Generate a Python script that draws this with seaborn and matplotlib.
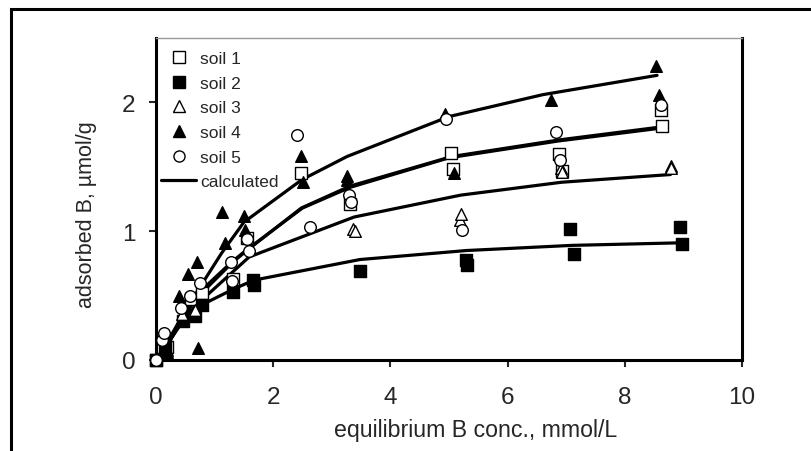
import seaborn as sns
import matplotlib.pyplot as plt
import matplotlib.patches as mpatches
from matplotlib.lines import Line2D
import pandas as pd
import numpy as np

soil1_x = [0, 0.18, 0.6, 0.78, 1.31, 1.55, 2.48, 3.31, 5.04, 5.07, 6.87, 6.92, 8.62, 8.63]
soil1_y = [0, 0.10, 0.47, 0.52, 0.63, 0.95, 1.45, 1.21, 1.61, 1.48, 1.60, 1.47, 1.94, 1.82]
soil2_x = [0, 0.16, 0.46, 0.66, 0.79, 1.32, 1.66, 1.67, 3.48, 5.29, 5.31, 7.07, 7.14, 8.94, 8.97]
soil2_y = [0, 0.11, 0.30, 0.34, 0.43, 0.53, 0.62, 0.58, 0.69, 0.78, 0.74, 1.02, 0.82, 1.03, 0.90]
soil3_x = [0, 0.18, 0.45, 0.67, 3.37, 3.39, 5.18, 5.20, 6.91, 6.93, 8.78, 8.78]
soil3_y = [0, 0.08, 0.36, 0.39, 1.02, 1.00, 1.09, 1.13, 1.49, 1.46, 1.51, 1.49]
soil4_x = [0, 0.18, 0.40, 0.55, 0.70, 0.72, 1.12, 1.17, 1.50, 1.52, 2.47, 2.51, 3.26, 3.26, 4.93, 5.09, 6.74, 8.53, 8.59]
soil4_y = [0, 0.065, 0.50, 0.67, 0.76, 0.09, 1.15, 0.91, 1.12, 1.01, 1.58, 1.38, 1.43, 1.40, 1.91, 1.45, 2.02, 2.28, 2.06]
soil5_x = [0, 0.11, 0.13, 0.42, 0.58, 0.75, 1.28, 1.30, 1.55, 1.58, 2.40, 2.63, 3.30, 3.32, 4.95, 5.22, 6.83, 6.90, 8.61]
soil5_y = [0, 0.155, 0.21, 0.40, 0.50, 0.60, 0.76, 0.61, 0.94, 0.85, 1.75, 1.03, 1.28, 1.23, 1.87, 1.01, 1.77, 1.55, 1.98]

# calculated curves
calc1_x = [0, 0.18, 0.6, 0.78, 1.31, 1.55, 2.48, 3.31, 5.05, 6.9, 8.63]
calc1_y = [0, 0.11, 0.42, 0.52, 0.76, 0.85, 1.18, 1.35, 1.58, 1.71, 1.81]
calc2_x = [0, 0.16, 0.46, 0.66, 0.79, 1.32, 1.67, 3.48, 5.3, 7.1, 8.97]
calc2_y = [0, 0.12, 0.30, 0.38, 0.43, 0.55, 0.62, 0.78, 0.85, 0.89, 0.91]
calc3_x = [0, 0.18, 0.45, 0.67, 1.59, 3.38, 5.2, 6.92, 8.78]
calc3_y = [0, 0.11, 0.30, 0.42, 0.80, 1.11, 1.28, 1.38, 1.44]
calc4_x = [0, 0.18, 0.40, 0.70, 1.12, 1.50, 2.49, 3.26, 5.0, 6.6, 8.55]
calc4_y = [0, 0.10, 0.30, 0.53, 0.83, 1.07, 1.40, 1.58, 1.89, 2.06, 2.21]
calc5_x = [0, 0.12, 0.42, 0.58, 0.75, 1.29, 1.56, 2.5, 3.31, 5.0, 6.86, 8.61]
calc5_y = [0, 0.08, 0.32, 0.42, 0.53, 0.76, 0.86, 1.18, 1.34, 1.57, 1.70, 1.80]

soils = ['soil 1', 'soil 2', 'soil 3', 'soil 4', 'soil 5']
markers = ['s', 's', '^', '^', 'o']
faces = ['white', 'black', 'white', 'black', 'white']

meas = [(soil1_x, soil1_y), (soil2_x, soil2_y), (soil3_x, soil3_y), (soil4_x, soil4_y), (soil5_x, soil5_y)]
calc = [(calc1_x, calc1_y), (calc2_x, calc2_y), (calc3_x, calc3_y), (calc4_x, calc4_y), (calc5_x, calc5_y)]

calc_df = pd.concat([pd.DataFrame({'c': cx, 'q': cy, 'soil': s}) for s, (cx, cy) in zip(soils, calc)])

sns.set_style('white')
plt.rcParams['font.family'] = ['Liberation Sans', 'DejaVu Sans']

fig = plt.figure(figsize=(8.11, 4.52), dpi=100)
ax = fig.add_axes([156 / 811, 1 - 361 / 452, 586 / 811, 322 / 452])

# outer frame (runs off the right and bottom edges)
fig.patches.append(mpatches.Rectangle((11 / 811, -0.1), 1.2, 1 - 10 / 452 + 0.1, transform=fig.transFigure,
                                      fill=False, edgecolor='black', linewidth=2.2))

sns.lineplot(data=calc_df, x='c', y='q', units='soil', estimator=None, sort=False,
             color='black', linewidth=2.3, ax=ax, legend=False)

for s, (mx, my), m, fc in zip(soils, meas, markers, faces):
    df = pd.DataFrame({'c': mx, 'q': my})
    sns.scatterplot(data=df, x='c', y='q', marker=m, s=70, facecolor=fc, edgecolor='black',
                    linewidth=1.0, ax=ax, zorder=3, legend=False, clip_on=False)

ax.set_xlim(0, 10)
ax.set_ylim(0, 2.5)
ax.set_xticks([0, 2, 4, 6, 8, 10])
ax.set_yticks([0, 1, 2])
for sp in ax.spines.values():
    sp.set_color('black')
    sp.set_linewidth(2.2)
ax.spines['top'].set_linewidth(1.0)
ax.spines['top'].set_color('#999999')
ax.tick_params(axis='x', direction='out', length=5, width=1.5, pad=14, labelsize=17.5, bottom=True)
ax.tick_params(axis='y', direction='out', length=5, width=1.5, pad=10, labelsize=17.5, left=True)
ax.set_xlabel('equilibrium B conc., mmol/L', fontsize=16.7)
ax.set_ylabel('adsorbed B, µmol/g', fontsize=15.5)
ax.xaxis.set_label_coords((476 - 156) / 586, (361 - 419) / 322)
ax.yaxis.set_label_coords((97 - 156) / 586, (361 - 215) / 322)

handles = [Line2D([], [], linestyle='none', marker=m, markersize=8, markerfacecolor=fc,
                  markeredgecolor='black', markeredgewidth=1.0) for m, fc in zip(markers, faces)]
handles.append(Line2D([], [], color='black', linewidth=2.3))
leg = ax.legend(handles, soils + ['calculated'], loc='upper left', frameon=False, fontsize=12.5,
                handlelength=2.0, handletextpad=0.25, labelspacing=0.55, borderaxespad=0,
                bbox_to_anchor=(-0.003, 0.982))

fig.savefig('out.png', dpi=100)
